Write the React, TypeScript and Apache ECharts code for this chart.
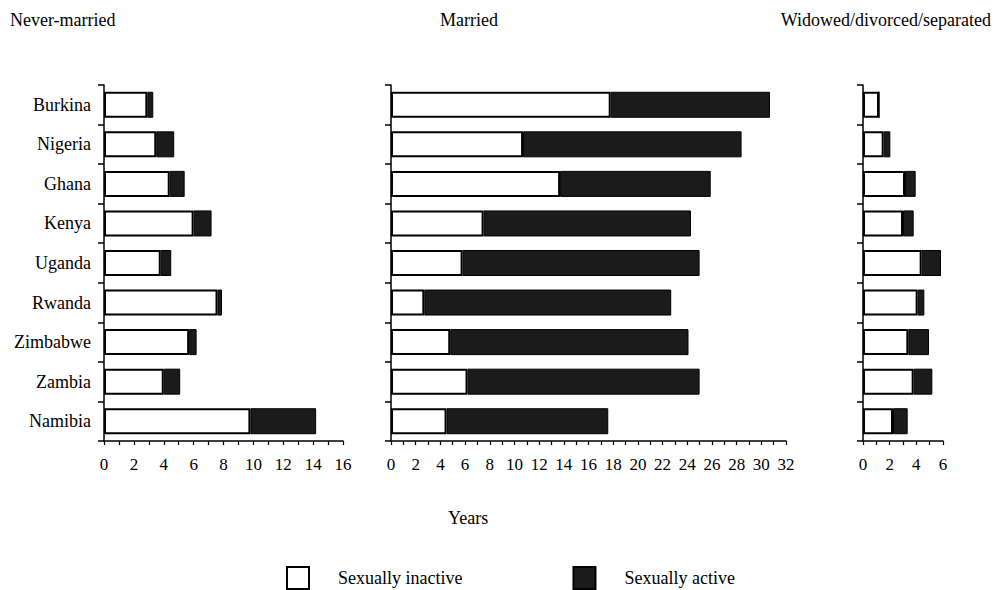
import React, { useEffect, useRef } from "react";
import * as echarts from "echarts";

const countries = ["Burkina", "Nigeria", "Ghana", "Kenya", "Uganda", "Rwanda", "Zimbabwe", "Zambia", "Namibia"];

const neverInactive = [2.9, 3.5, 4.4, 6.0, 3.8, 7.6, 5.7, 4.0, 9.8];
const neverActive = [0.4, 1.2, 1.0, 1.2, 0.7, 0.3, 0.5, 1.1, 4.4];

const marriedInactive = [17.8, 10.7, 13.7, 7.5, 5.8, 2.7, 4.8, 6.2, 4.5];
const marriedActive = [12.9, 17.7, 12.2, 16.8, 19.2, 20.0, 19.3, 18.8, 13.1];

const widowedInactive = [1.2, 1.55, 3.15, 3.0, 4.4, 4.1, 3.4, 3.8, 2.25];
const widowedActive = [0.0, 0.5, 0.8, 0.8, 1.45, 0.5, 1.55, 1.4, 1.1];

const panelTitles = ["Never-married", "Married", "Widowed/divorced/separated"];
const axisMax = [16, 32, 6];

const FONT = "'Liberation Serif', 'Times New Roman', serif";
const BLACK = "#1b1b1b";

export default function App() {
  const ref = useRef<HTMLDivElement>(null);

  useEffect(() => {
    document.body.style.margin = "0";
    if (!ref.current) return;
    const chart = echarts.init(ref.current, null, { renderer: "svg" });

    const grids = [
      { left: 104, width: 239, top: 85, height: 356 },
      { left: 391, width: 395, top: 85, height: 356 },
      { left: 863, width: 80, top: 85, height: 356 },
    ];

    const inactive = [neverInactive, marriedInactive, widowedInactive];
    const active = [neverActive, marriedActive, widowedActive];

    const xAxes = grids.map((_, i) => ({
      type: "value" as const,
      gridIndex: i,
      min: 0,
      max: axisMax[i],
      interval: 1,
      splitLine: { show: false },
      axisLine: { show: true, lineStyle: { color: "#000", width: 1.5 } },
      axisTick: { show: true, length: 4, lineStyle: { color: "#000", width: 1.2 } },
      axisLabel: {
        margin: 15,
        color: "#000",
        fontFamily: FONT,
        fontSize: 17,
        formatter: (v: number) => (v % 2 === 0 ? String(v) : ""),
      },
    }));

    const yAxes = grids.map((_, i) => ({
      type: "category" as const,
      gridIndex: i,
      data: countries,
      inverse: true,
      axisLine: { show: true, lineStyle: { color: "#000", width: 1.5 } },
      axisTick: { show: true, length: 6, lineStyle: { color: "#000", width: 1.5 } },
      axisLabel: {
        show: i === 0,
        margin: 13,
        color: "#000",
        fontFamily: FONT,
        fontSize: 18,
      },
    }));

    const series: any[] = [];
    grids.forEach((_, i) => {
      series.push({
        name: "Sexually inactive",
        type: "bar",
        xAxisIndex: i,
        yAxisIndex: i,
        stack: "s" + i,
        barWidth: 26,
        data: inactive[i],
        itemStyle: { color: "#fff", borderColor: "#000", borderWidth: 2 },
      });
      series.push({
        name: "Sexually active",
        type: "bar",
        xAxisIndex: i,
        yAxisIndex: i,
        stack: "s" + i,
        barWidth: 26,
        data: active[i],
        itemStyle: { color: BLACK, borderColor: "#000", borderWidth: 1 },
      });
    });

    const titleStyle = { fill: "#000", fontFamily: FONT, fontSize: 18 };

    chart.setOption({
      animation: false,
      backgroundColor: "#fff",
      grid: grids,
      xAxis: xAxes,
      yAxis: yAxes,
      series,
      legend: {
        left: 286,
        top: 566,
        padding: 0,
        itemWidth: 22,
        itemHeight: 22,
        itemGap: 110,
        icon: "rect",
        selectedMode: false,
        data: ["Sexually inactive", "Sexually active"],
        textStyle: { color: "#000", fontFamily: FONT, fontSize: 18, lineHeight: 20, padding: [2, 0, 0, 24] },
      },
      graphic: [
        { type: "text", left: 10, top: 11, style: { ...titleStyle, text: panelTitles[0] } },
        { type: "text", left: 440, top: 11, style: { ...titleStyle, text: panelTitles[1] } },
        { type: "text", right: 4, top: 11, style: { ...titleStyle, text: panelTitles[2] } },
        { type: "text", left: 448, top: 509, style: { ...titleStyle, text: "Years" } },
      ],
    });

    return () => chart.dispose();
  }, []);

  return <div ref={ref} style={{ width: 995, height: 590 }} />;
}
